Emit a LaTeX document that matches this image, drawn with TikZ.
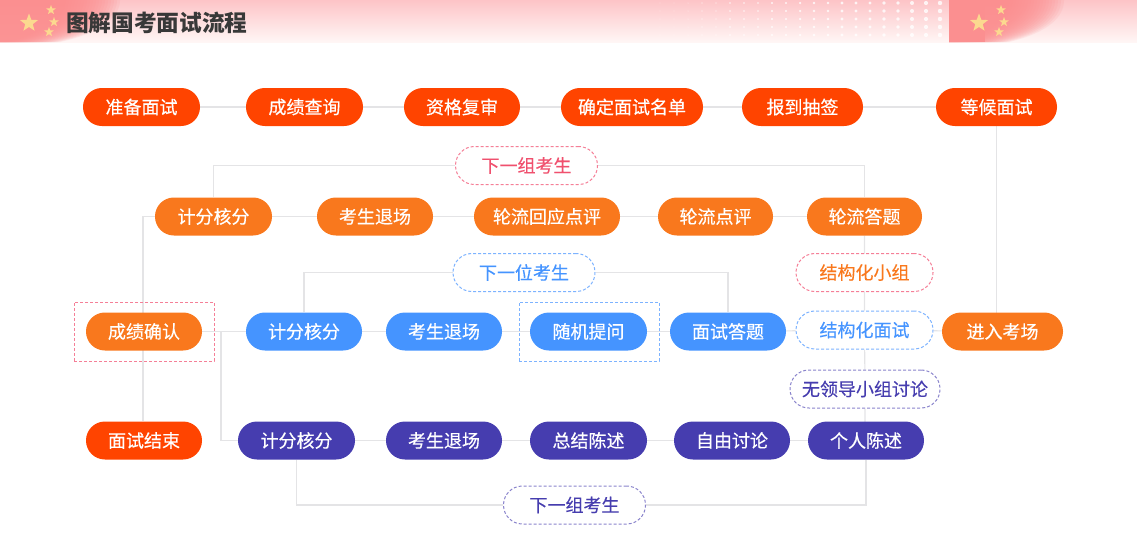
\documentclass[tikz,border=0pt]{standalone}
\usepackage{fontspec}
\setmainfont{Noto Sans CJK SC}
\newfontfamily\medfont[FakeBold=0.5]{Noto Sans CJK SC}
\newfontfamily\tagfont[FakeBold=0.25]{Noto Sans CJK SC}
\usetikzlibrary{shapes.geometric}
\definecolor{redorange}{HTML}{FF4400}
\definecolor{orangebox}{HTML}{F9781D}
\definecolor{bluebox}{HTML}{4594FF}
\definecolor{purplebox}{HTML}{463DAF}
\definecolor{linegray}{HTML}{E4E4E6}
\definecolor{pinkdash}{HTML}{F57F97}
\definecolor{pinktext}{HTML}{F0506E}
\definecolor{lightblue}{HTML}{7DB3FF}
\definecolor{lightpurple}{HTML}{8A84CC}
\definecolor{flagpink}{HTML}{FB8F90}
\definecolor{stargold}{HTML}{FBD98F}
\definecolor{bandtop}{HTML}{FDC4C7}
\definecolor{bandbottom}{HTML}{FFF6F5}
\pgfdeclarelayer{back}
\pgfsetlayers{back,main}
\tikzset{
  pill/.style={rectangle,rounded corners=18.9pt,minimum height=38pt,inner sep=0pt,text=white,font=\fontsize{18}{20}\medfont},
  tag/.style={rectangle,rounded corners=18.9pt,minimum height=38pt,inner sep=0pt,draw,dash pattern=on 3pt off 2pt,line width=1pt,fill=white,font=\fontsize{18}{20}\tagfont},
  frame/.style={rectangle,draw,dash pattern=on 3pt off 2pt,line width=1pt,minimum width=140pt,minimum height=59pt},
  link/.style={draw=linegray,line width=1.1pt},
  flagstar/.style={star,star points=5,star point ratio=2.4,fill=stargold,inner sep=0pt},
}
\begin{document}
\begin{tikzpicture}[x=1pt,y=-1pt]
\useasboundingbox (0,0) rectangle (1137,555);
% header band
\shade[top color=bandtop,bottom color=bandbottom] (0,0) rectangle (1137,42);
\foreach \x in {660,674,...,940}
  \foreach \y in {3,11,19,27,35}{
    \pgfmathsetmacro{\r}{0.3+1.9*(\x-660)/280}
    \fill[white,opacity=.8] (\x,\y) circle (\r pt);
  }
\foreach \d in {0,3,...,54}
  \fill[flagpink,opacity=.13] (0,0)--(66+\d,0) .. controls (66+\d,16) and (50+\d,32) .. (6+\d,42)--(0,42)--cycle;
\fill[flagpink] (949,0) rectangle (985,42);
\foreach \d in {0,3,...,54}
  \fill[flagpink,opacity=.13] (949,0)--(1010+\d,0) .. controls (1010+\d,16) and (996+\d,32) .. (955+\d,42)--(949,42)--cycle;
\foreach \x/\y/\s in {29/23/19,51/10/10,54/22/10,49/32/10,979/23/19,1001/10/10,1004/22/10,999/32/10}
  \node[flagstar,minimum size=\s pt] (star\x\y) at (\x,\y) {};
\node[anchor=west,text=black!78,font=\fontsize{22.7}{24}\selectfont\bfseries] (title) at (62.5,22.5) {图解国考面试流程};
% first row
\node[pill,fill=redorange,minimum width=117pt] (zb) at (141.5,107) {准备面试};
\node[pill,fill=redorange,minimum width=117pt] (cj) at (304.5,107) {成绩查询};
\node[pill,fill=redorange,minimum width=116pt] (zg) at (462,107) {资格复审};
\node[pill,fill=redorange,minimum width=142pt] (qd) at (632,107) {确定面试名单};
\node[pill,fill=redorange,minimum width=121pt] (bd) at (802.5,107) {报到抽签};
\node[pill,fill=redorange,minimum width=121pt] (dh) at (996.5,107) {等候面试};
% second row
\node[pill,fill=orangebox,minimum width=117pt] (ojf) at (213.5,216.5) {计分核分};
\node[pill,fill=orangebox,minimum width=116pt] (otc) at (375,216.5) {考生退场};
\node[pill,fill=orangebox,minimum width=146pt] (ohy) at (547,216.5) {轮流回应点评};
\node[pill,fill=orangebox,minimum width=115pt] (odp) at (715.5,216.5) {轮流点评};
\node[pill,fill=orangebox,minimum width=115pt] (odt) at (864.5,216.5) {轮流答题};
% third row
\node[pill,fill=orangebox,minimum width=116pt] (qr) at (144,331.5) {成绩确认};
\node[pill,fill=bluebox,minimum width=116pt] (bjf) at (304,331.5) {计分核分};
\node[pill,fill=bluebox,minimum width=116pt] (btc) at (444,331.5) {考生退场};
\node[pill,fill=bluebox,minimum width=117pt] (btw) at (588.5,331.5) {随机提问};
\node[pill,fill=bluebox,minimum width=116pt] (bdt) at (728,331.5) {面试答题};
\node[pill,fill=orangebox,minimum width=121pt] (jr) at (1002.5,331.5) {进入考场};
% fourth row
\node[pill,fill=redorange,minimum width=116pt] (js) at (144,440.5) {面试结束};
\node[pill,fill=purplebox,minimum width=117pt] (pjf) at (296.5,440.5) {计分核分};
\node[pill,fill=purplebox,minimum width=116pt] (ptc) at (444,440.5) {考生退场};
\node[pill,fill=purplebox,minimum width=117pt] (pzj) at (588.5,440.5) {总结陈述};
\node[pill,fill=purplebox,minimum width=116pt] (ptl) at (732,440.5) {自由讨论};
\node[pill,fill=purplebox,minimum width=116pt] (pcs) at (866,440.5) {个人陈述};
% dashed tags
\node[tag,draw=pinkdash,text=pinktext,minimum width=142pt] (nextg) at (526.5,165.5) {下一组考生};
\node[tag,draw=lightblue,text=bluebox,minimum width=142pt] (nextb) at (524,272.5) {下一位考生};
\node[tag,draw=lightpurple,text=purplebox,minimum width=142pt] (nextp) at (574.5,505) {下一组考生};
\node[tag,draw=pinkdash,text=orangebox,minimum width=137pt] (xz) at (864.5,272.5) {结构化小组};
\node[tag,draw=lightblue,text=bluebox,minimum width=137pt] (ms) at (864.5,330) {结构化面试};
\node[tag,draw=lightpurple,text=purplebox,minimum width=150pt] (wl) at (865,389) {无领导小组讨论};
% dashed frames
\node[frame,draw=pinkdash] (qrframe) at (144,331.5) {};
\node[frame,draw=lightblue] (twframe) at (589,331.5) {};
% connectors
\begin{pgfonlayer}{back}
\foreach \a/\b in {zb/cj,cj/zg,zg/qd,qd/bd,bd/dh,ojf/otc,otc/ohy,ohy/odp,odp/odt,qr/bjf,bjf/btc,btc/btw,btw/bdt,bdt/ms,ms/jr,pjf/ptc,ptc/pzj,pzj/ptl,ptl/pcs}
  \draw[link] (\a)--(\b);
\draw[link] (dh)--(dh|-jr);
\draw[link] (odt)--(ms)--(wl)--(wl|-pcs);
\draw[link] (ojf.north)|-(nextg)-|(odt.north);
\draw[link] (bjf.north)|-(nextb)-|(bdt.north);
\draw[link] (pjf.south)|-(nextp)-|(pcs.south);
\draw[link] (ojf.west)-|([xshift=-1pt]js.north);
\draw[link] (221,331.5)|-(pjf.west);
\end{pgfonlayer}
\end{tikzpicture}
\end{document}
